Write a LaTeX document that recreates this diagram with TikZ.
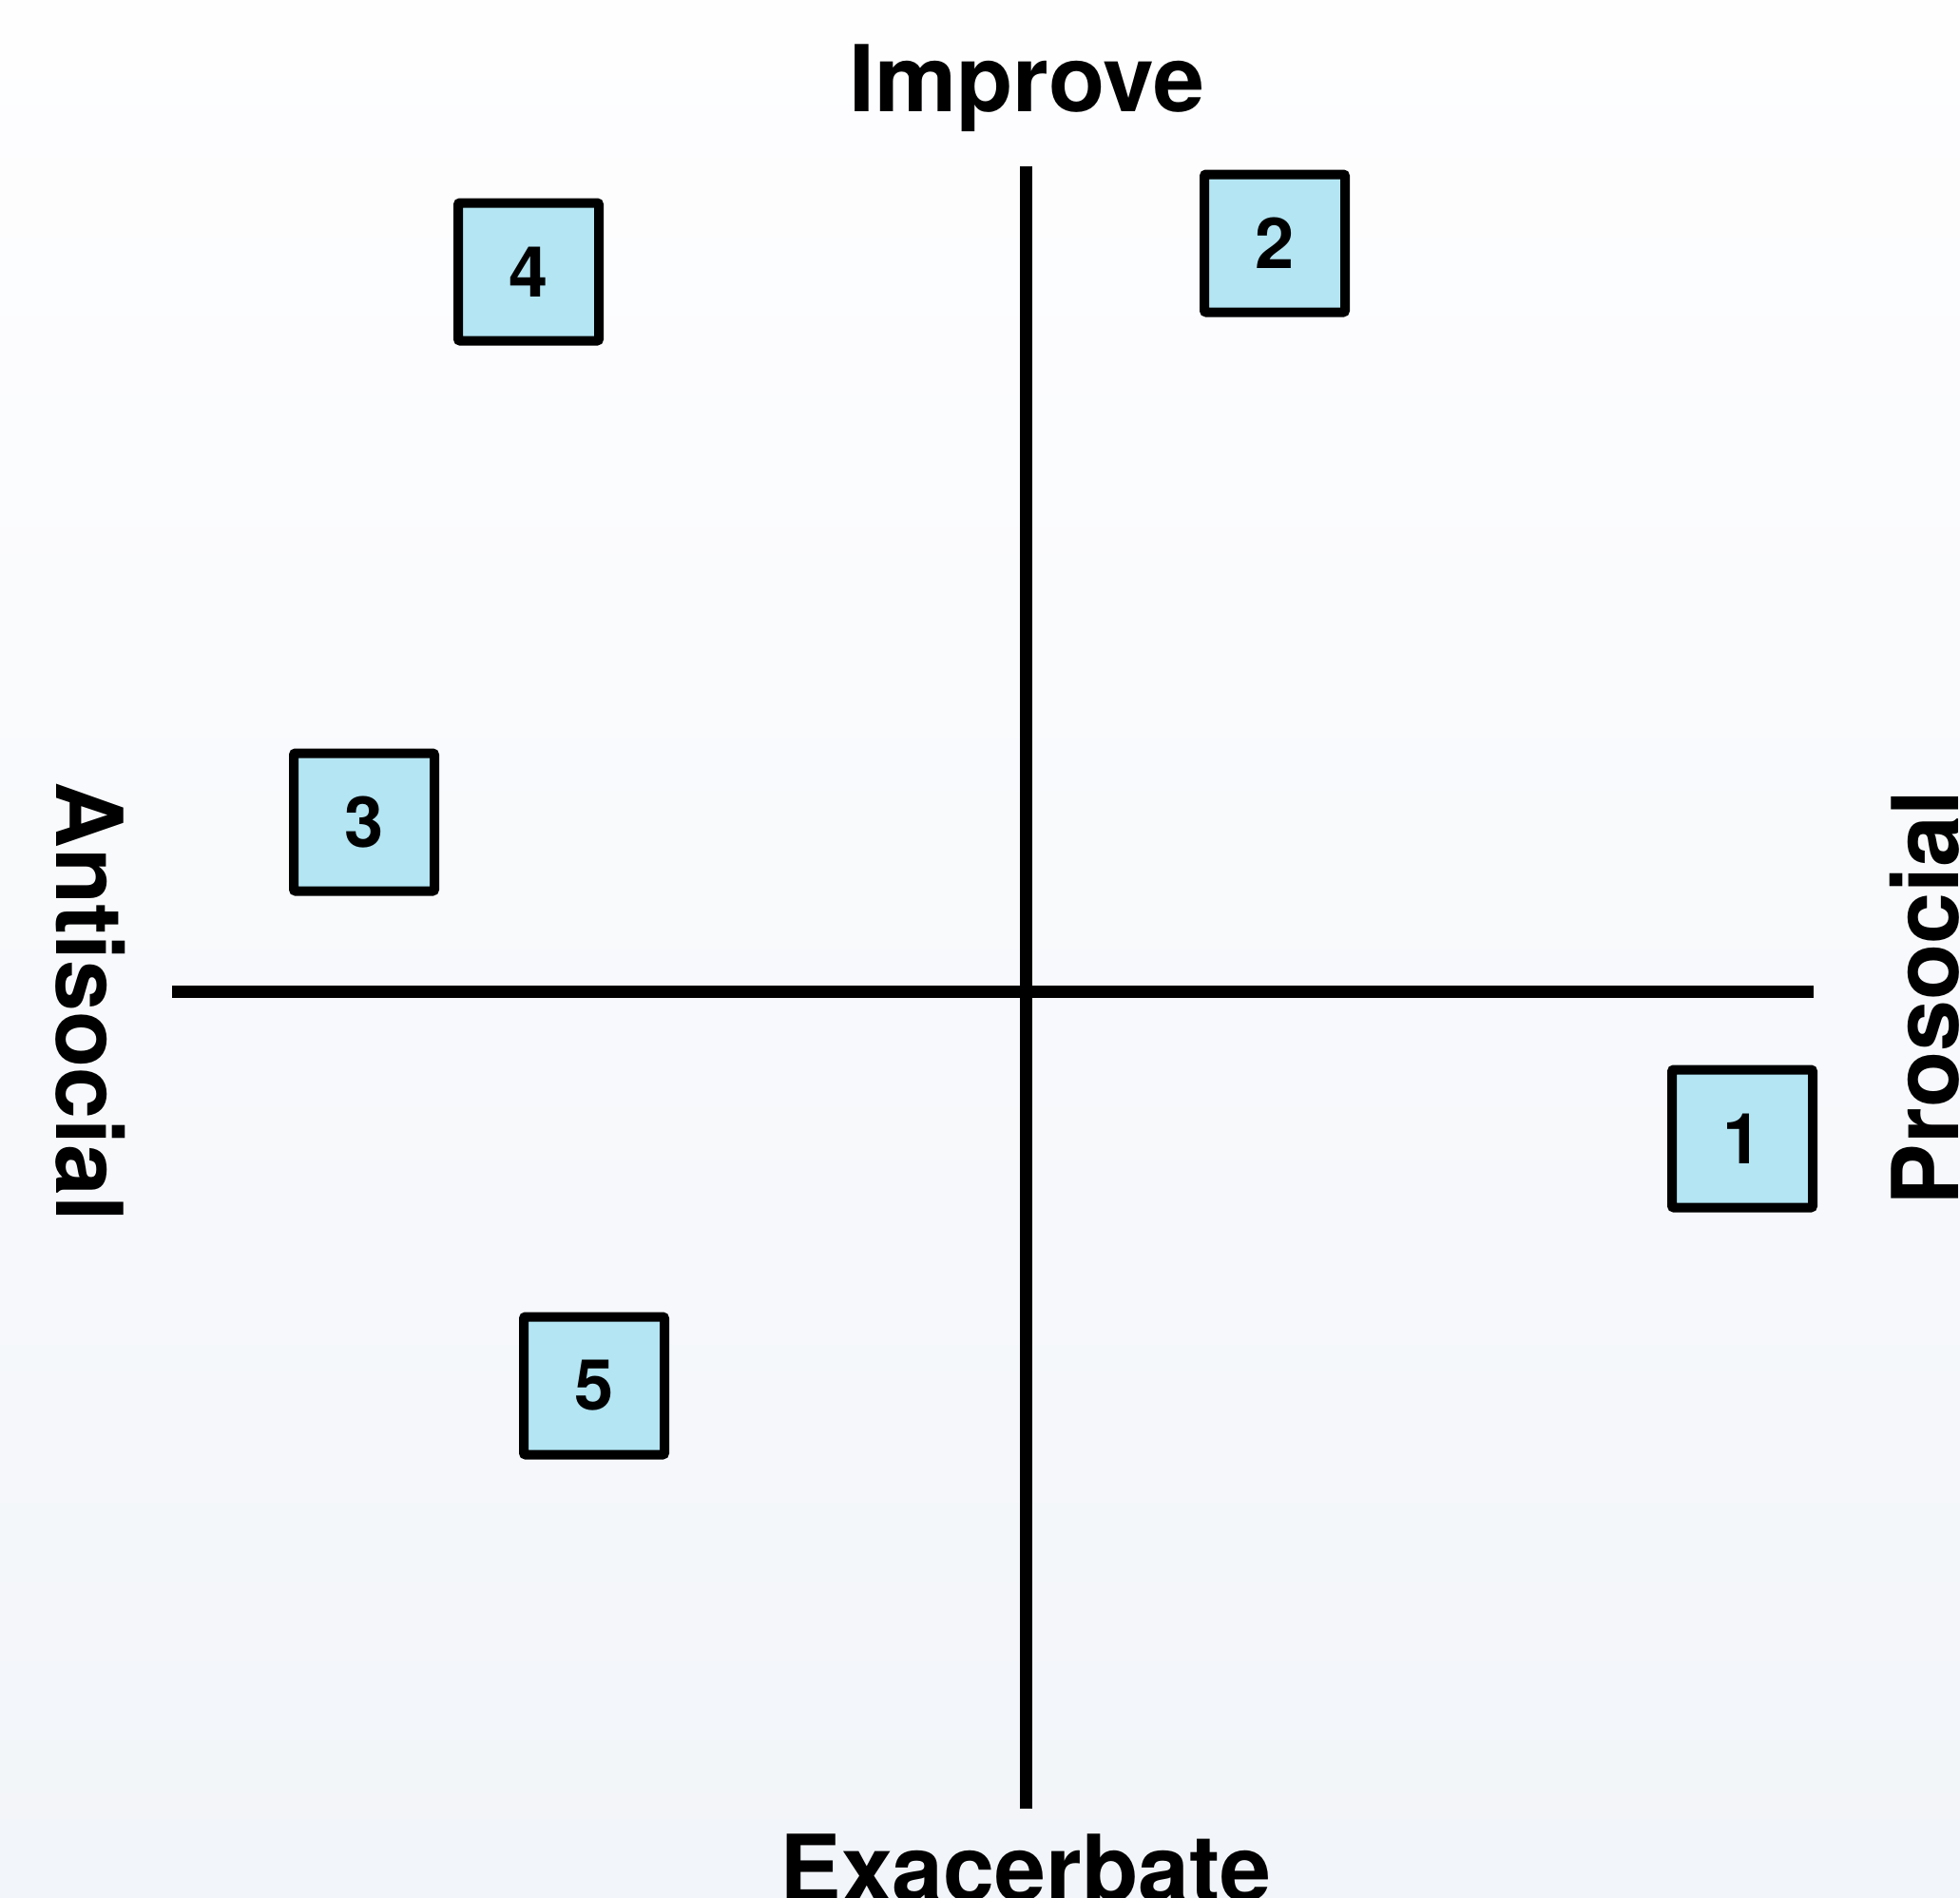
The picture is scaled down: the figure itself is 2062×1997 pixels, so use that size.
\documentclass[tikz,border=0pt]{standalone}
\usepackage{fontspec}
\setmainfont{TeX Gyre Heros}
\usetikzlibrary{positioning}
\definecolor{boxblue}{HTML}{B3E5F3}
\definecolor{bgtop}{HTML}{FEFEFF}
\definecolor{bgbottom}{HTML}{F2F5F9}

\begin{document}
\begin{tikzpicture}[x=1pt,y=-1pt,
  every node/.style={font=\bfseries},
  axis/.style={line width=13pt},
  axlabel/.style={font=\fontsize{97}{100}\selectfont\bfseries,anchor=base,inner sep=0},
  item/.style={draw,line width=10pt,fill=boxblue,rounded corners=2pt,minimum width=148pt,minimum height=145pt,inner sep=0,font=\fontsize{74}{80}\selectfont\bfseries}]
  \shade[top color=bgtop,bottom color=bgbottom] (0,0) rectangle (2062,1997);
  \useasboundingbox (0,0) rectangle (2062,1997);

  \coordinate (top) at (1079,175);
  \coordinate (bottom) at (1079,1903);
  \coordinate (left) at (181,1043);
  \coordinate (right) at (1908,1043);
  \draw[axis] (top) -- (bottom);
  \draw[axis] (left) -- (right);

  \node[axlabel] (improve) at (1080,117) {Improve};
  \node[axlabel] (exacerbate) at (1079,2000) {Exacerbate};
  \node[axlabel,rotate=-90] (antisocial) at (59,1054) {Antisocial};
  \node[axlabel,rotate=90] (prosocial) at (2060,1050) {Prosocial};

  \node[item] (n1) at (1833,1198) {1};
  \node[item] (n2) at (1341,256) {2};
  \node[item] (n3) at (383,865) {3};
  \node[item] (n4) at (556,286) {4};
  \node[item] (n5) at (625,1458) {5};
\end{tikzpicture}
\end{document}
